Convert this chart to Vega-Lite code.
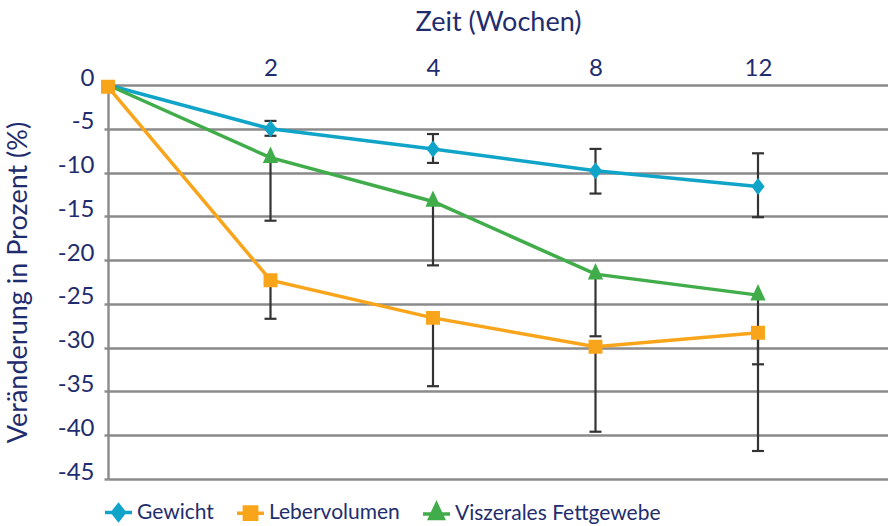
{
  "$schema": "https://vega.github.io/schema/vega-lite/v6.json",
  "width": 780,
  "height": 394,
  "autosize": {"type": "none"},
  "padding": {"left": 108, "top": 85, "right": 0, "bottom": 47},
  "background": "white",
  "config": {
    "font": "Lato",
    "view": {"stroke": null},
    "axis": {"labelFont": "Lato", "titleFont": "Lato"},
    "legend": {"labelFont": "Lato"}
  },
  "data": {
    "values": [
      {"series": "Gewicht", "woche": "0", "wert": 0, "lo": null, "hi": null},
      {"series": "Gewicht", "woche": "2", "wert": -5.0, "lo": -5.8, "hi": -4.1},
      {"series": "Gewicht", "woche": "4", "wert": -7.3, "lo": -8.9, "hi": -5.6},
      {"series": "Gewicht", "woche": "8", "wert": -9.8, "lo": -12.4, "hi": -7.3},
      {"series": "Gewicht", "woche": "12", "wert": -11.6, "lo": -15.1, "hi": -7.8},
      {"series": "Viszerales Fettgewebe", "woche": "0", "wert": 0, "lo": null, "hi": null},
      {"series": "Viszerales Fettgewebe", "woche": "2", "wert": -8.3, "lo": -15.5, "hi": -8.3},
      {"series": "Viszerales Fettgewebe", "woche": "4", "wert": -13.3, "lo": -20.6, "hi": -13.3},
      {"series": "Viszerales Fettgewebe", "woche": "8", "wert": -21.6, "lo": -28.7, "hi": -21.6},
      {"series": "Viszerales Fettgewebe", "woche": "12", "wert": -24.0, "lo": -31.9, "hi": -24.0},
      {"series": "Lebervolumen", "woche": "0", "wert": -0.2, "lo": null, "hi": null},
      {"series": "Lebervolumen", "woche": "2", "wert": -22.3, "lo": -26.7, "hi": -22.3},
      {"series": "Lebervolumen", "woche": "4", "wert": -26.6, "lo": -34.4, "hi": -26.6},
      {"series": "Lebervolumen", "woche": "8", "wert": -29.9, "lo": -39.6, "hi": -29.9},
      {"series": "Lebervolumen", "woche": "12", "wert": -28.3, "lo": -41.8, "hi": -28.3}
    ]
  },
  "encoding": {
    "x": {
      "field": "woche",
      "type": "ordinal",
      "scale": {"type": "point", "domain": ["0", "2", "4", "8", "12"], "padding": 0.4, "align": 0},
      "axis": {
        "orient": "top",
        "values": ["2", "4", "8", "12"],
        "domain": false,
        "ticks": false,
        "grid": false,
        "labelAngle": 0,
        "labelPadding": 5,
        "labelFontSize": 24,
        "labelColor": "#1f2d6e",
        "title": "Zeit (Wochen)",
        "titleFontSize": 27,
        "titleFontWeight": "normal",
        "titleColor": "#1f2d6e",
        "titlePadding": 20
      }
    }
  },
  "layer": [
    {
      "transform": [{"filter": "isValid(datum.lo)"}],
      "mark": {"type": "rule", "color": "#333333", "strokeWidth": 2.2},
      "encoding": {
        "y": {
          "field": "lo",
          "type": "quantitative",
          "scale": {"domain": [-45, 0], "nice": false, "zero": false},
          "axis": {
            "orient": "left",
            "values": [0, -5, -10, -15, -20, -25, -30, -35, -40, -45],
            "labelExpr": "toString(datum.value)",
            "grid": true,
            "gridColor": "#8a8a8a",
            "gridWidth": 2.4,
            "domain": true,
            "domainColor": "#8a8a8a",
            "domainWidth": 2.4,
            "ticks": true,
            "tickSize": 4,
            "tickColor": "#8a8a8a",
            "tickWidth": 2.4,
            "labelFontSize": 24,
            "labelColor": "#1f2d6e",
            "labelPadding": 10,
            "labelBaseline": "alphabetic",
            "labelFlush": false,
            "title": "Veränderung in Prozent (%)",
            "titleFontSize": 27,
            "titleFontWeight": "normal",
            "titleColor": "#1f2d6e",
            "titlePadding": 25
          }
        },
        "y2": {"field": "hi"}
      }
    },
    {
      "transform": [{"filter": "isValid(datum.lo)"}],
      "mark": {"type": "tick", "color": "#333333", "thickness": 2.2, "size": 12, "opacity": 1},
      "encoding": {"y": {"field": "lo", "type": "quantitative"}}
    },
    {
      "transform": [{"filter": "isValid(datum.hi) && datum.hi > datum.wert"}],
      "mark": {"type": "tick", "color": "#333333", "thickness": 2.2, "size": 12, "opacity": 1},
      "encoding": {"y": {"field": "hi", "type": "quantitative"}}
    },
    {
      "mark": {"type": "line", "strokeWidth": 3.5},
      "encoding": {
        "y": {"field": "wert", "type": "quantitative"},
        "color": {
          "field": "series",
          "type": "nominal",
          "scale": {"domain": ["Gewicht", "Lebervolumen", "Viszerales Fettgewebe"], "range": ["#10a4c9", "#f9a51b", "#40ad4a"]}
        }
      }
    },
    {
      "transform": [{"filter": "datum.woche != '0' || datum.series == 'Lebervolumen'"}],
      "mark": {"type": "point", "filled": true, "opacity": 1, "size": 289},
      "encoding": {
        "y": {"field": "wert", "type": "quantitative"},
        "color": {
          "field": "series",
          "type": "nominal",
          "legend": {
            "orient": "none",
            "legendX": 0,
            "legendY": 417,
            "direction": "horizontal",
            "title": null,
            "padding": 0,
            "symbolSize": 225,
            "symbolStrokeWidth": 3.5,
            "labelFontSize": 21,
            "labelLimit": 0,
            "labelColor": "#1f2d6e",
            "labelOffset": 8,
            "columnPadding": 16,
            "encode": {
              "symbols": {
                "update": {
                  "stroke": {"scale": "color", "field": "value"},
                  "strokeWidth": {"value": 3.5}
                }
              }
            }
          }
        },
        "shape": {
          "field": "series",
          "type": "nominal",
          "scale": {
            "domain": ["Gewicht", "Lebervolumen", "Viszerales Fettgewebe"],
            "range": [
              "M-1.8,0H1.8M0,-1L0.78,0L0,1L-0.78,0Z",
              "M-1.8,0H1.8M-0.82,-0.82H0.82V0.82H-0.82Z",
              "M-1.8,0H1.8M0,-1.3L0.9,0.62L-0.9,0.62Z"
            ]
          }
        }
      }
    }
  ]
}
